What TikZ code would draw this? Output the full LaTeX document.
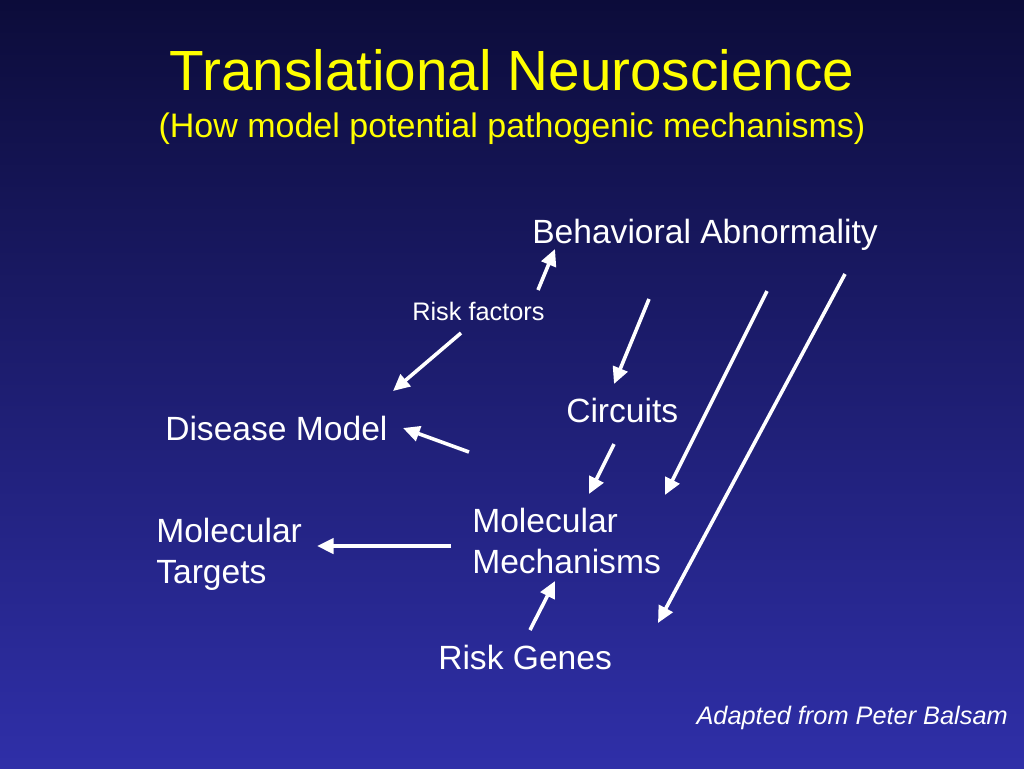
\documentclass[tikz,border=0pt]{standalone}
\usepackage{fontspec}
\setmainfont{Liberation Sans}
\usetikzlibrary{arrows.meta}
\definecolor{bgtop}{HTML}{0C0C3A}
\definecolor{bgmid}{HTML}{1F1F86}
\definecolor{bgbot}{HTML}{2F2FA8}
\definecolor{ttl}{HTML}{FFFF00}
\tikzset{
  titletext/.style={text=ttl, inner sep=0pt, font=\fontsize{42.5}{50}\selectfont},
  subtext/.style={text=ttl, inner sep=0pt, font=\fontsize{25.5}{30}\selectfont},
  bodytext/.style={text=white, inner sep=0pt, align=left, font=\fontsize{25.2}{30.75}\selectfont},
  smalltext/.style={text=white, inner sep=0pt, font=\fontsize{19}{23}\selectfont},
  note/.style={text=white, inner sep=0pt, font=\fontsize{19}{23}\selectfont\itshape},
  arr/.style={draw=white, line width=2.7pt, -{Triangle[length=12.5pt,width=11.5pt]}}
}
\begin{document}
\begin{tikzpicture}[x=0.75pt,y=-0.75pt]
\useasboundingbox (0,0) rectangle (1024,768);
\shade[top color=bgtop, middle color=bgmid, bottom color=bgbot] (0,0) rectangle (1024,768);

\node[titletext, anchor=base] (title) at (512,90) {Translational Neuroscience};
\node[subtext, anchor=base] (subtitle) at (512,137) {(How model potential pathogenic mechanisms)};

\node[bodytext, anchor=base west] (behav) at (532,243) {Behavioral Abnormality};
\node[smalltext, anchor=base west] (risk) at (412,320) {Risk factors};
\node[bodytext, anchor=base west] (disease) at (165,440) {Disease Model};
\node[bodytext, anchor=base west] (circ) at (566,422) {Circuits};
\node[bodytext, anchor=base west] (targets) at (156,583) {Molecular\\Targets};
\node[bodytext, anchor=base west] (mech) at (472,573) {Molecular\\Mechanisms};
\node[bodytext, anchor=base west] (genes) at (438,669) {Risk Genes};
\node[note, anchor=base east] (credit) at (1008,724) {Adapted from Peter Balsam};

\coordinate (a1s) at (538,290); \coordinate (a1e) at (555,249);
\coordinate (a2s) at (461,333); \coordinate (a2e) at (393,391);
\coordinate (a3s) at (469,452); \coordinate (a3e) at (403,428);
\coordinate (a4s) at (649,299); \coordinate (a4e) at (614,384);
\coordinate (a5s) at (614,444); \coordinate (a5e) at (589,494);
\coordinate (a6s) at (767,291); \coordinate (a6e) at (665,495);
\coordinate (a7s) at (845,274); \coordinate (a7e) at (658,623);
\coordinate (a8s) at (451,546); \coordinate (a8e) at (317,546);
\coordinate (a9s) at (530,630); \coordinate (a9e) at (555,581);

\draw[arr] (a1s) -- (a1e);
\draw[arr] (a2s) -- (a2e);
\draw[arr] (a3s) -- (a3e);
\draw[arr] (a4s) -- (a4e);
\draw[arr] (a5s) -- (a5e);
\draw[arr] (a6s) -- (a6e);
\draw[arr] (a7s) -- (a7e);
\draw[arr] (a8s) -- (a8e);
\draw[arr] (a9s) -- (a9e);
\end{tikzpicture}
\end{document}
